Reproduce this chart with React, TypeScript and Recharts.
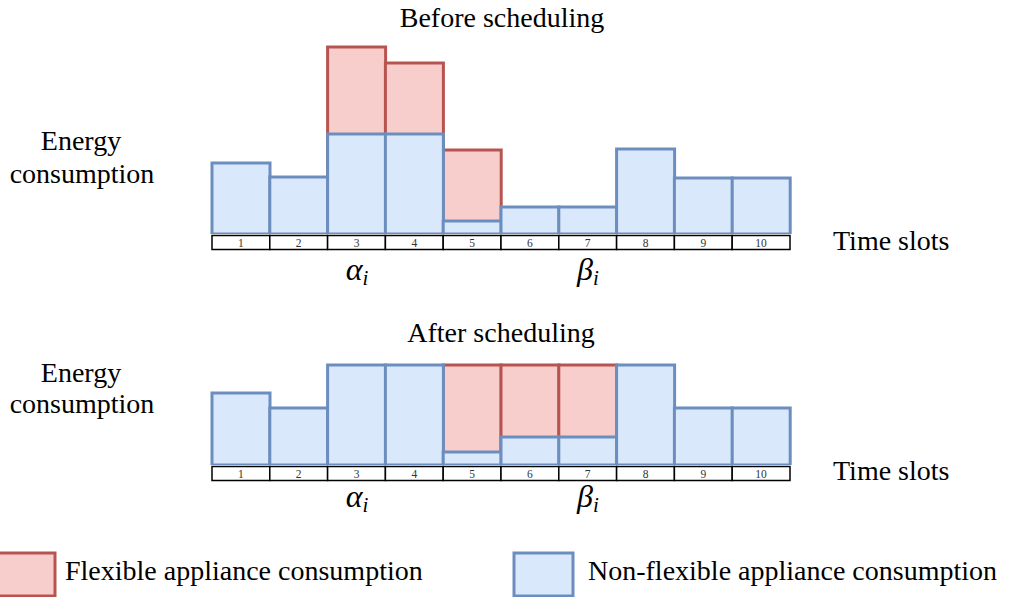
import { Bar, BarChart, XAxis, YAxis } from "recharts";

// draw.io style colours
const C = {
  flexFill: "#f8cecc",
  flexStroke: "#b85450",
  baseFill: "#dae8fc",
  baseStroke: "#6c8ebf",
  text: "#000",
};

const FONT = "'Liberation Serif', serif";

const SLOTS = ["1", "2", "3", "4", "5", "6", "7", "8", "9", "10"];

// before scheduling
const BEFORE_BASE = [71, 57, 100, 100, 13, 27, 27, 85, 56, 56];
const BEFORE_FLEX = [0, 0, 87, 71, 71, 0, 0, 0, 0, 0];

// after scheduling
const AFTER_BASE = [72, 57, 100, 100, 13, 28, 28, 100, 57, 57];
const AFTER_FLEX = [0, 0, 0, 0, 87, 72, 72, 0, 0, 0];

const W = 1014;
const H = 597;
const PLOT_LEFT = 212;
const PLOT_RIGHT = 790;
const PLOT_TOP = 34;
const PLOT_H = 200;
const AXIS_H = 16;
const PANEL_H = 270;
const AXIS_Y = PLOT_TOP + PLOT_H;
const SLOT_W = (PLOT_RIGHT - PLOT_LEFT) / SLOTS.length;

function SlotTick(props: any) {
  const { x, payload } = props;
  return (
    <g>
      <rect
        x={x - SLOT_W / 2}
        y={AXIS_Y + 1.5}
        width={SLOT_W}
        height={14}
        fill="#fff"
        stroke="#000"
        strokeWidth={1.5}
      />
      <text
        x={x}
        y={AXIS_Y + 12.5}
        textAnchor="middle"
        fill="#333"
        style={{ fontFamily: FONT, fontSize: 11.5 }}
      >
        {payload.value}
      </text>
    </g>
  );
}

function Panel({ base, flex, top }: { base: number[]; flex: number[]; top: number }) {
  // red bar holds the stacked total and sits under the blue one
  const rows = SLOTS.map((s, i) => ({
    slot: s,
    base: base[i],
    total: flex[i] > 0 ? base[i] + flex[i] : null,
  }));

  return (
    <div style={{ position: "absolute", left: 0, top, width: W, height: PANEL_H }}>
      <BarChart
        width={W}
        height={PANEL_H}
        data={rows}
        margin={{
          top: PLOT_TOP,
          right: W - PLOT_RIGHT,
          bottom: PANEL_H - PLOT_TOP - PLOT_H - AXIS_H,
          left: PLOT_LEFT,
        }}
        barCategoryGap={0}
        barGap={0}
      >
        <XAxis
          xAxisId="slots"
          dataKey="slot"
          interval={0}
          axisLine={false}
          tickLine={false}
          tickSize={0}
          tickMargin={0}
          height={AXIS_H}
          tick={(p: any) => <SlotTick {...p} />}
        />
        <XAxis xAxisId="over" dataKey="slot" hide />
        <YAxis domain={[0, 200]} hide allowDataOverflow />
        <Bar
          xAxisId="over"
          dataKey="total"
          fill={C.flexFill}
          stroke={C.flexStroke}
          strokeWidth={3}
          isAnimationActive={false}
        />
        <Bar
          xAxisId="slots"
          dataKey="base"
          fill={C.baseFill}
          stroke={C.baseStroke}
          strokeWidth={3}
          isAnimationActive={false}
        />
      </BarChart>
    </div>
  );
}

function Greek({ x, y, ch }: { x: number; y: number; ch: string }) {
  return (
    <text
      x={x}
      y={y}
      textAnchor="middle"
      fill={C.text}
      style={{ fontFamily: FONT, fontSize: 32, fontStyle: "italic" }}
    >
      {ch}
      <tspan dy={5} style={{ fontSize: 21 }}>i</tspan>
    </text>
  );
}

function Labels() {
  const t = { fill: C.text, style: { fontFamily: FONT, fontSize: 28 } };
  return (
    <svg
      width={W}
      height={H}
      style={{ position: "absolute", left: 0, top: 0, pointerEvents: "none" }}
    >
      <text x={502} y={27} textAnchor="middle" {...t}>Before scheduling</text>
      <text x={81} y={150} textAnchor="middle" {...t}>Energy</text>
      <text x={82} y={183} textAnchor="middle" {...t}>consumption</text>
      <text x={833} y={250} {...t}>Time slots</text>
      <Greek x={357} y={280} ch="α" />
      <Greek x={588} y={280} ch="β" />

      <text x={501} y={342} textAnchor="middle" {...t}>After scheduling</text>
      <text x={81} y={382} textAnchor="middle" {...t}>Energy</text>
      <text x={82} y={413} textAnchor="middle" {...t}>consumption</text>
      <text x={833} y={480} {...t}>Time slots</text>
      <Greek x={357} y={507} ch="α" />
      <Greek x={588} y={507} ch="β" />

      {/* legend */}
      <rect x={-4} y={553} width={59} height={43} fill={C.flexFill} stroke={C.flexStroke} strokeWidth={3} />
      <text x={65} y={580} {...t}>Flexible appliance consumption</text>
      <rect x={514} y={553} width={59} height={43} fill={C.baseFill} stroke={C.baseStroke} strokeWidth={3} />
      <text x={588} y={580} {...t}>Non-flexible appliance consumption</text>
    </svg>
  );
}

export default function App() {
  return (
    <div
      style={{
        position: "absolute",
        left: 0,
        top: 0,
        width: W,
        height: H,
        background: "#fff",
        overflow: "hidden",
        fontFamily: FONT,
      }}
    >
      <Panel base={BEFORE_BASE} flex={BEFORE_FLEX} top={0} />
      <Panel base={AFTER_BASE} flex={AFTER_FLEX} top={231} />
      <Labels />
    </div>
  );
}
